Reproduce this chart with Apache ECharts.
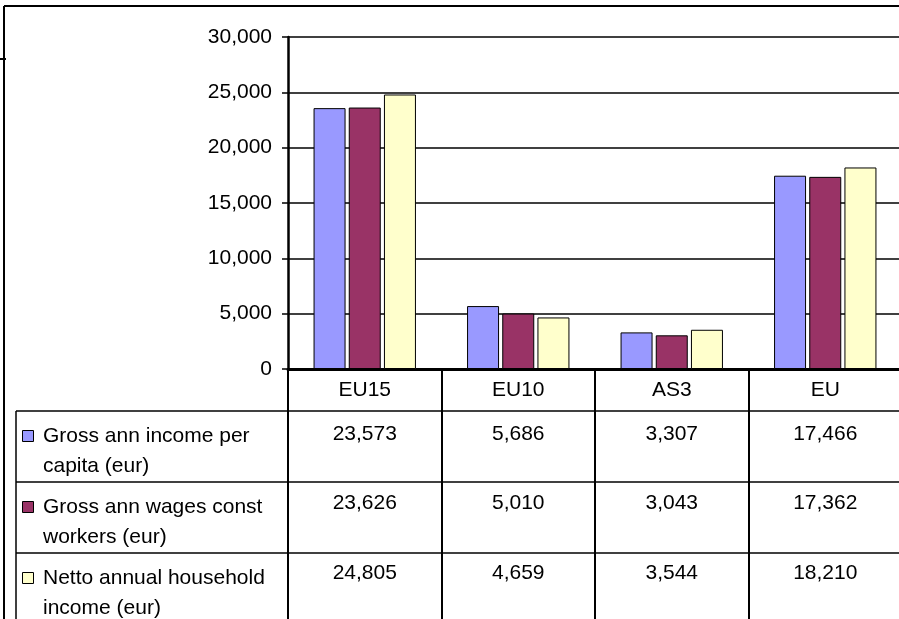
<!DOCTYPE html>
<html>
<head>
<meta charset="utf-8">
<script src="https://cdn.jsdelivr.net/npm/echarts@6/dist/echarts.min.js"></script>
<style>
html,body{margin:0;padding:0;background:#fff;overflow:hidden;width:899px;height:619px;}
#chart{width:912px;height:619px;}
</style>
</head>
<body>
<div id="chart"></div>
<script>
const categories = ['EU15', 'EU10', 'AS3', 'EU'];
const seriesNames = ['Gross ann income per capita (eur)', 'Gross ann wages const workers (eur)', 'Netto annual household income (eur)'];
const grossIncome = [23573, 5686, 3307, 17466];
const grossWages = [23626, 5010, 3043, 17362];
const nettoIncome = [24805, 4659, 3544, 18210];
const seriesValues = [grossIncome, grossWages, nettoIncome];
const colors = ['#9999FF', '#993366', '#FFFFCC'];
const yMin = 0, yMax = 30000, yInterval = 5000;

const FONT = "'Liberation Sans', Arial, sans-serif";
const FS = 21;
const fmt = v => v.toLocaleString('en-US');

const gridLeft = 288, gridTop = 37, gridW = 614, gridH = 332;
const rowTops = [411, 482, 553];
const tableLeft = 16;
const valueMargins = [55, 124, 194];

const chart = echarts.init(document.getElementById('chart'), null, {renderer: 'canvas'});

const xAxes = [{
  type: 'category',
  data: categories,
  gridIndex: 0,
  position: 'bottom',
  axisLine: {show: true, onZero: false, lineStyle: {color: '#000', width: 3}},
  axisTick: {show: true, inside: false, length: 260, lineStyle: {color: '#000', width: 2}},
  axisLabel: {color: '#000', fontFamily: FONT, fontSize: FS, margin: 11},
  splitLine: {show: false}
}];
seriesValues.forEach((vals, i) => {
  xAxes.push({
    type: 'category',
    data: vals.map(fmt),
    gridIndex: 0,
    position: 'bottom',
    offset: 0,
    axisLine: {show: false},
    axisTick: {show: false},
    axisLabel: {color: '#000', fontFamily: FONT, fontSize: FS, margin: valueMargins[i], interval: 0},
    splitLine: {show: false}
  });
});

const graphics = [];
// outer chart border
graphics.push({type: 'line', shape: {x1: 4, y1: 6, x2: 912, y2: 6}, style: {stroke: '#000', lineWidth: 2}, silent: true});
graphics.push({type: 'line', shape: {x1: 4, y1: 6, x2: 4, y2: 625}, style: {stroke: '#000', lineWidth: 2}, silent: true});
graphics.push({type: 'line', shape: {x1: 0, y1: 59, x2: 6, y2: 59}, style: {stroke: '#000', lineWidth: 2}, silent: true});
// table lines
rowTops.forEach(y => {
  graphics.push({type: 'line', shape: {x1: tableLeft, y1: y, x2: 912, y2: y}, style: {stroke: '#000', lineWidth: 1.5}, silent: true});
});
graphics.push({type: 'line', shape: {x1: tableLeft, y1: rowTops[0], x2: tableLeft, y2: 625}, style: {stroke: '#000', lineWidth: 1.5}, silent: true});
// legend keys & labels
seriesNames.forEach((name, i) => {
  const top = rowTops[i];
  graphics.push({type: 'rect', shape: {x: 22.5, y: top + 19.5, width: 11, height: 11},
    style: {fill: colors[i], stroke: '#000', lineWidth: 1}, silent: true});
  graphics.push({type: 'text', x: 43, y: top + 10,
    style: {text: name, fill: '#000', font: FS + 'px ' + FONT, width: 240, overflow: 'break', lineHeight: 30,
      textVerticalAlign: 'top', verticalAlign: 'top'}, silent: true});
});

const option = {
  animation: false,
  backgroundColor: '#fff',
  grid: {left: gridLeft, top: gridTop, width: gridW, height: gridH, containLabel: false},
  xAxis: xAxes,
  yAxis: {
    type: 'value', min: yMin, max: yMax, interval: yInterval,
    axisLine: {show: true, lineStyle: {color: '#000', width: 2.5}},
    axisTick: {show: true, inside: false, length: 6, lineStyle: {color: '#000', width: 1.5}},
    axisLabel: {color: '#000', fontFamily: FONT, fontSize: FS, margin: 16, formatter: v => fmt(v)},
    splitLine: {show: true, lineStyle: {color: '#000', width: 1.5}}
  },
  series: seriesValues.map((vals, i) => ({
    name: seriesNames[i],
    type: 'bar',
    xAxisIndex: 0,
    data: vals,
    barWidth: 32,
    barGap: '10%',
    itemStyle: {color: colors[i], borderColor: '#000', borderWidth: 1}
  })),
  graphic: graphics
};
chart.setOption(option);
</script>
</body>
</html>
